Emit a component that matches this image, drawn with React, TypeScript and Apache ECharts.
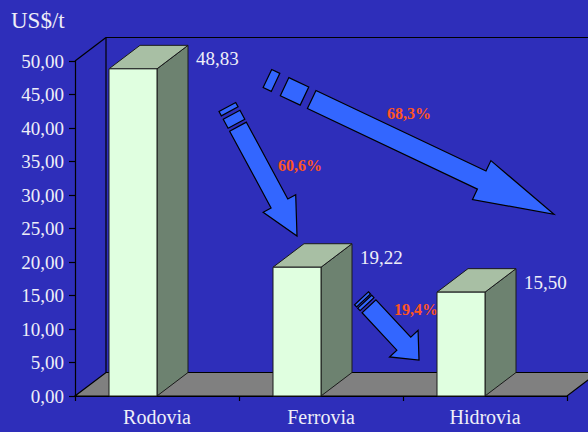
import React, { useEffect, useRef } from "react";
import * as echarts from "echarts";

const categories = ["Rodovia", "Ferrovia", "Hidrovia"];
const costs = [48.83, 19.22, 15.5];
const yMin = 0;
const yMax = 50;
const yInterval = 5;
const reductionLabels = ["68,3%", "60,6%", "19,4%"];

const BG = "#2e2eba";
const TEXT = "#eeeef8";
const SERIF = '"Liberation Serif", "Times New Roman", serif';

const fmt = (v: number) => v.toFixed(2).replace(".", ",");

type Pt = [number, number];

function arrowShapes(
  tail: Pt,
  tip: Pt,
  shaftW: number,
  headW: number,
  headLen: number,
  blocks: [number, number][]
) {
  const dx = tip[0] - tail[0];
  const dy = tip[1] - tail[1];
  const L = Math.hypot(dx, dy);
  const u = [dx / L, dy / L];
  const n = [-u[1], u[0]];
  const P = (a: number, b: number): Pt => [
    tail[0] + u[0] * a + n[0] * b,
    tail[1] + u[1] * a + n[1] * b,
  ];
  const hs = shaftW / 2;
  const hh = headW / 2;
  const hb = L - headLen;
  const polys: Pt[][] = [];
  blocks.forEach(([a, b]) => polys.push([P(a, -hs), P(b, -hs), P(b, hs), P(a, hs)]));
  polys.push([P(0, -hs), P(hb, -hs), P(hb, -hh), P(L, 0), P(hb, hh), P(hb, hs), P(0, hs)]);
  return polys.map((points) => ({
    type: "polygon",
    z: 4,
    shape: { points },
    style: { fill: "#3366ff", stroke: "#000", lineWidth: 1.2 },
  }));
}

export default function App() {
  const ref = useRef<HTMLDivElement>(null);

  useEffect(() => {
    if (!ref.current) return;
    const chart = echarts.init(ref.current, undefined, { renderer: "svg" });

    const arrows = [
      ...arrowShapes([311.7, 99.5], [554, 214.3], 20, 43, 80, [[-49, -40], [-30, -8]]),
      ...arrowShapes([238, 126.7], [297, 236], 19, 37, 37, [[-22.4, -17.4], [-13.5, -3.3]]),
      ...arrowShapes([369, 306.3], [419, 360], 19, 39, 22.3, [[-11, -8], [-6.3, -2.9]]),
    ];
    const pctPos: Pt[] = [
      [409, 113],
      [300, 165.5],
      [416, 309],
    ];
    const pctTexts = reductionLabels.map((t, i) => ({
      type: "text",
      z: 4,
      x: pctPos[i][0],
      y: pctPos[i][1],
      style: {
        text: t,
        fill: "#ff5522",
        font: `bold 16px ${SERIF}`,
        align: "center",
        verticalAlign: "middle",
      },
    }));

    const option: any = {
      animation: false,
      backgroundColor: BG,
      title: {
        text: "US$/t",
        left: 6,
        top: 4,
        textStyle: { color: TEXT, fontFamily: SERIF, fontSize: 23, fontWeight: "normal" },
      },
      grid: { left: 75, right: 21, top: 61, bottom: 36, containLabel: false },
      xAxis: {
        type: "category",
        data: categories,
        boundaryGap: true,
        axisLine: { show: true, lineStyle: { color: "#000", width: 1.2 } },
        axisTick: { show: true, length: 5, lineStyle: { color: "#000", width: 1.2 } },
        axisLabel: { color: TEXT, fontFamily: SERIF, fontSize: 20, margin: 11 },
        splitLine: { show: false },
      },
      yAxis: {
        type: "value",
        min: yMin,
        max: yMax,
        interval: yInterval,
        axisLine: { show: true, lineStyle: { color: "#000", width: 1.2 } },
        axisTick: { show: true, length: 6, lineStyle: { color: "#000", width: 1.2 } },
        axisLabel: { color: TEXT, fontFamily: SERIF, fontSize: 19, margin: 11, formatter: fmt },
        splitLine: { show: false },
      },
      graphic: [...arrows, ...pctTexts],
      series: [
        {
          type: "custom",
          z: 3,
          silent: true,
          data: [[0, 0]],
          renderItem: (params: any, api: any) => {
            const cs = params.coordSys;
            const band = api.size([1, 0])[0];
            const dx = (band * 31) / 164;
            const dy = 23.5;
            const L = cs.x;
            const R = cs.x + cs.width;
            const T = cs.y;
            const B = cs.y + cs.height;
            const lineStyle = { stroke: "#000", lineWidth: 1.2 };
            return {
              type: "group",
              children: [
                {
                  type: "polygon",
                  shape: { points: [[L, B], [R, B], [R + dx, B - dy], [L + dx, B - dy]] },
                  style: { fill: "#808080", stroke: "#000", lineWidth: 1.2 },
                },
                { type: "line", shape: { x1: L + dx, y1: B - dy, x2: L + dx, y2: T - dy }, style: lineStyle },
                { type: "line", shape: { x1: L + dx, y1: T - dy, x2: R + dx, y2: T - dy }, style: lineStyle },
                { type: "line", shape: { x1: L, y1: T, x2: L + dx, y2: T - dy }, style: lineStyle },
                { type: "line", shape: { x1: R + dx, y1: T - dy, x2: R + dx, y2: B - dy }, style: lineStyle },
              ],
            };
          },
        },
        {
          type: "custom",
          z: 5,
          data: costs.map((v, i) => [i, v]),
          renderItem: (params: any, api: any) => {
            const idx = api.value(0);
            const val = api.value(1);
            const p = api.coord([idx, val]);
            const p0 = api.coord([idx, 0]);
            const band = api.size([1, 0])[0];
            const fw = (band * 48) / 164;
            const dx = (band * 31) / 164;
            const dy = 23.5;
            const x = p[0];
            const yt = p[1];
            const yb = p0[1];
            const stroke = { stroke: "#1a1a1a", lineWidth: 1 };
            return {
              type: "group",
              children: [
                {
                  type: "polygon",
                  shape: { points: [[x, yt], [x + dx, yt - dy], [x + dx, yb - dy], [x, yb]] },
                  style: { fill: "#6d8270", ...stroke },
                },
                {
                  type: "polygon",
                  shape: { points: [[x - fw, yt], [x, yt], [x + dx, yt - dy], [x - fw + dx, yt - dy]] },
                  style: { fill: "#a8bfa4", ...stroke },
                },
                {
                  type: "rect",
                  shape: { x: x - fw, y: yt, width: fw, height: yb - yt },
                  style: { fill: "#e0ffe0", ...stroke },
                },
                {
                  type: "text",
                  x: x + dx + 8,
                  y: yt - 10,
                  style: {
                    text: fmt(val),
                    fill: TEXT,
                    font: `19px ${SERIF}`,
                    align: "left",
                    verticalAlign: "middle",
                  },
                },
              ],
            };
          },
        },
      ],
    };

    chart.setOption(option);
    return () => chart.dispose();
  }, []);

  return (
    <div
      ref={ref}
      style={{ position: "absolute", left: 0, top: 0, width: 588, height: 432 }}
    />
  );
}
